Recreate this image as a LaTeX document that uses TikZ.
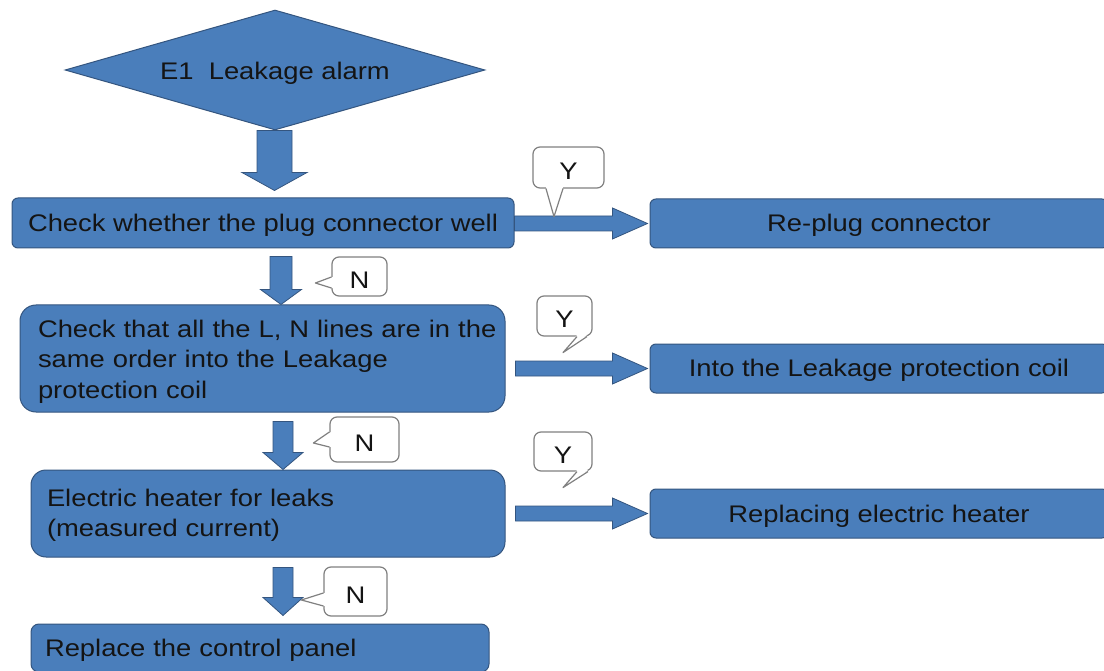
\documentclass[tikz,border=0pt]{standalone}
\usepackage{fontspec}
\setmainfont{Liberation Sans}[FakeStretch=1.14]
\usetikzlibrary{shapes.geometric,calc}
\definecolor{boxfill}{HTML}{4A7EBB}
\definecolor{boxline}{HTML}{34557F}
\definecolor{bubgray}{HTML}{808080}
\definecolor{txt}{HTML}{141414}
% vertical block arrow: src, tgt, x, gap1, gap2, shaft half, head half, head length
\newcommand\vblock[8]{%
  \draw[barrow] let \p1=(#1), \p2=(#2) in
    (#3pt-#6pt,\y1-#4pt) -- (#3pt+#6pt,\y1-#4pt) -- (#3pt+#6pt,\y2+#5pt+#8pt)
    -- (#3pt+#7pt,\y2+#5pt+#8pt) -- (#3pt,\y2+#5pt) -- (#3pt-#7pt,\y2+#5pt+#8pt)
    -- (#3pt-#6pt,\y2+#5pt+#8pt) -- cycle;}
% horizontal block arrow: src, tgt, start gap
\newcommand\hblock[3]{%
  \draw[barrow] let \p1=(#1.east), \p2=(#2.west) in
    (\x1+#3pt,\y2+7.5pt) -- (\x2-37pt,\y2+7.5pt) -- (\x2-37pt,\y2+15.5pt)
    -- (\x2-2pt,\y2) -- (\x2-37pt,\y2-15.5pt) -- (\x2-37pt,\y2-7.5pt)
    -- (\x1+#3pt,\y2-7.5pt) -- cycle;}
% callout tails
\newcommand\tailS[4]{%
  \fill[white] ($(#1)+(#2,-1.5)$) -- ($(#1)+(#3)$) -- ($(#1)+(#4,-1.5)$) -- cycle;
  \draw[bubline] ($(#1)+(#2,0)$) -- ($(#1)+(#3)$) -- ($(#1)+(#4,0)$);}
\newcommand\tailW[4]{%
  \fill[white] ($(#1)+(1.5,#2)$) -- ($(#1)+(#3)$) -- ($(#1)+(1.5,#4)$) -- cycle;
  \draw[bubline] ($(#1)+(0,#2)$) -- ($(#1)+(#3)$) -- ($(#1)+(0,#4)$);}
\newcommand\ind[1]{\hspace*{#1}}
\begin{document}
\begin{tikzpicture}[x=1pt,y=-1pt,
  every node/.style={font=\fontsize{24}{30.5}\selectfont, text=txt},
  flowbox/.style={draw=boxline, fill=boxfill, line width=1pt, inner sep=0pt, rounded corners=6pt},
  oneline/.style={text height=22pt, text depth=5pt},
  ltext/.style={inner sep=0pt, text width=#1, align=left},
  bubble/.style={draw=bubgray, fill=white, line width=1.2pt, rounded corners=7pt, inner sep=0pt,
    text height=23.6pt, text depth=0pt},
  bubline/.style={draw=bubgray, line width=1.2pt, line join=round},
  barrow/.style={draw=boxline, fill=boxfill, line width=0.8pt, line join=miter}]
\useasboundingbox (0,0) rectangle (1104,671);
\clip (0,0) rectangle (1104,671);

% main chain
\node[flowbox, diamond, sharp corners, aspect=3.5, minimum width=420pt, minimum height=120pt,
  text height=24pt, text depth=5pt] (alarm) at (275,70) {E1\ \ Leakage alarm};
\node[flowbox, oneline, minimum width=502pt, minimum height=50pt] (b1) at (263,223) {Check whether the plug connector well};
\node[flowbox, rounded corners=16pt, minimum width=485pt, minimum height=107pt, ltext=485pt,
  text height=23.5pt, text depth=66pt] (b2) at (262.5,358.5)
  {\ind{18pt}Check that all the L, N lines are in the\\\ind{18pt}same order into the Leakage\\\ind{18pt}protection coil};
\node[flowbox, rounded corners=15pt, minimum width=474pt, minimum height=87pt, ltext=474pt,
  text height=20.5pt, text depth=35.5pt] (b3) at (268,513.5)
  {\ind{16pt}Electric heater for leaks\\\ind{16pt}(measured current)};
\node[flowbox, oneline, rounded corners=8pt, minimum width=458pt, minimum height=48pt, ltext=458pt] (b4) at (260,648)
  {\ind{14pt}Replace the control panel};

% right column
\node[flowbox, oneline, minimum width=458pt, minimum height=49pt] (r1) at (879,223.5) {Re-plug connector};
\node[flowbox, oneline, minimum width=458pt, minimum height=49pt] (r2) at (879,368.5) {Into the Leakage protection coil};
\node[flowbox, oneline, minimum width=458pt, minimum height=49pt] (r3) at (879,513.5) {Replacing electric heater};

% block arrows
\vblock{alarm.south}{b1.north}{274.5}{0}{7}{17.5}{32.5}{18}
\vblock{b1.south}{b2.north}{281}{8}{0}{11}{20.5}{15}
\vblock{b2.south}{b3.north}{283}{9}{0}{10}{20}{17}
\vblock{b3.south}{b4.north}{283}{10}{8}{10}{20}{18}
\hblock{b1}{r1}{0}
\hblock{b2}{r2}{10}
\hblock{b3}{r3}{10}

% callouts
\node[bubble, minimum width=71pt, minimum height=41pt] (y1) at (568.5,167.5) {Y};
\tailS{y1.south}{-22.5}{-14.5,28}{-5.5}
\node[bubble, minimum width=55pt, minimum height=39pt] (n1) at (359.5,276.5) {N};
\tailW{n1.west}{0.5}{-16,6.5}{11.5}
\node[bubble, minimum width=55pt, minimum height=40pt] (y2) at (564.5,316) {Y};
\tailS{y2.south}{12.5}{-1.5,16}{22.5}
\node[bubble, minimum width=69pt, minimum height=45pt] (n2) at (364.5,439.5) {N};
\tailW{n2.west}{-7.5}{-16,3.5}{7.5}
\node[bubble, minimum width=58pt, minimum height=39pt] (y3) at (563,451.5) {Y};
\tailS{y3.south}{14}{0,16}{25}
\node[bubble, minimum width=63pt, minimum height=49pt] (n3) at (355.5,591.5) {N};
\tailW{n3.west}{1.5}{-22,8.5}{14.5}
\end{tikzpicture}
\end{document}
